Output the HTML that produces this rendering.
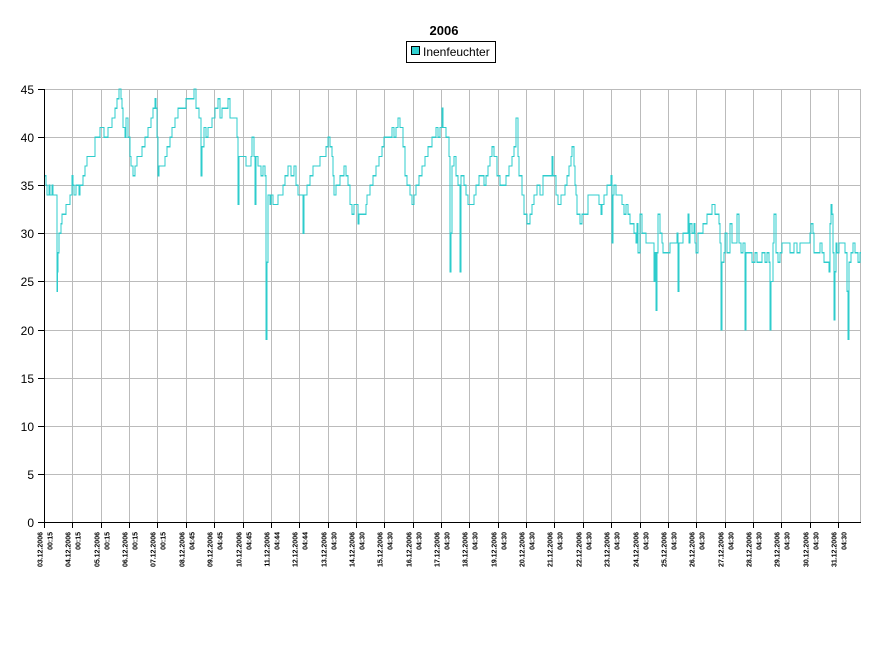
<!DOCTYPE html>
<html><head><meta charset="utf-8"><style>
html,body{margin:0;padding:0;background:#fff;}
svg{display:block;font-family:"Liberation Sans",sans-serif;}
</style></head><body>
<svg id="s" width="889" height="657" xmlns="http://www.w3.org/2000/svg">
<rect width="889" height="657" fill="#fff"/>
<text x="444" y="35" text-anchor="middle" font-size="13" font-weight="bold">2006</text>
<rect x="406.5" y="41.5" width="89" height="21" fill="#fff" stroke="#000"/>
<rect x="411.5" y="46.5" width="8" height="8" fill="#30d0d0" stroke="#000" stroke-width="1"/>
<text x="423" y="56" font-size="12">Inenfeuchter</text>
<g id="grid" shape-rendering="crispEdges"></g>
<path id="d" fill="none" stroke="#2ecccc" stroke-width="1.3" shape-rendering="crispEdges"/>
<g id="ax"></g>
</svg>
<script>
var NS="http://www.w3.org/2000/svg";
function el(p,t,a,txt){var e=document.createElementNS(NS,t);for(var k in a)e.setAttribute(k,a[k]);if(txt!==undefined)e.textContent=txt;p.appendChild(e);return e;}
var g=document.getElementById('grid'),ax=document.getElementById('ax');
function Y(v){return 522-v*9.622;}
var L=44,R=861;
for(var v=0;v<=45;v+=5){var y=Math.round(Y(v))+0.5;
 if(v>0)el(g,'line',{x1:L,x2:R,y1:y,y2:y,stroke:'#bbb'});
 el(ax,'line',{x1:38,x2:L,y1:y,y2:y,stroke:'#000'});
 el(ax,'text',{x:34,y:y+4.5,'text-anchor':'end','font-size':'12'},''+v);}
el(g,'line',{x1:R-0.5,x2:R-0.5,y1:89,y2:522,stroke:'#bbb'});
for(var i=0;i<29;i++){var x=Math.round(44+i*28.36)+0.5;
 if(i>0)el(g,'line',{x1:x,x2:x,y1:89,y2:522,stroke:'#bbb'});
 el(ax,'line',{x1:x,x2:x,y1:522,y2:528,stroke:'#000'});
 var d=(i+3<10?'0':'')+(i+3)+'.12.2006';
 var t=i<5?'00:15':(i<8?'04:45':(i<10?'04:44':'04:30'));
 el(ax,'text',{transform:'translate('+(x-2)+',532) rotate(-90)','text-anchor':'end','font-size':'7','font-weight':'bold'},d);
 el(ax,'text',{transform:'translate('+(x+8)+',532) rotate(-90)','text-anchor':'end','font-size':'7','font-weight':'bold'},t);}
el(ax,'line',{x1:44.5,x2:44.5,y1:89,y2:522,stroke:'#000'});
el(ax,'line',{x1:44,x2:R,y1:522.5,y2:522.5,stroke:'#000'});
var P=[44,36,46,35,47,34,49,35,50,34,52,35,53,34,57,24,57.5,26,58,28,59,30,61,31,62,32,66,33,70,34,72,36,73,35,74,34,76,35,79,34,80,35,83,36,85,37,87,38,95,40,100,41,104,40,108,41,112,42,115,43,117,44,119,45,121,44,122,43,123,41,125,40,126,42,128,40,130,38,131,37,133,36,135,37,137,38,142,39,145,40,148,41,151,42,153,43,155,44,156,43,157,40,158,36,159,37,165,38,167,39,170,40,172,41,175,42,178,43,186,44,191,44,194,45,196,43,199,42,201,36,202,39,204,41,206,40,208,41,212,42,215,43,218,44,220,42,222,43,225,43,228,44,230,42,234,42,237,40,238,33,239,38,244,38,246,37,249,37,251,38,252,40,254,38,255,33,256,38,258,37,261,36,263,37,265,36,266,19,267,27,268,34,270,33,271,34,273,33,278,34,283,35,285,36,288,37,291,36,294,37,296,35,298,34,303,30,304,34,307,35,310,36,313,37,320,38,326,39,328,40,330,39,332,38,333,36,334,34,336,35,340,36,344,37,346,36,348,35,350,33,352,32,354,33,358,31,359,32,364,32,366,33,367,34,370,35,373,36,376,37,379,38,382,39,384,40,392,41,394,40,396,41,398,42,400,41,403,39,405,36,407,35,410,34,412,33,414,34,416,35,419,36,422,37,425,38,428,39,432,40,436,41,438,40,440,41,442,43,443,41,446,40,449,38,450,26,451,30,452,37,454,38,456,36,458,35,460,26,461,36,464,35,466,34,468,33,474,34,476,35,479,36,484,35,486,36,488,37,490,38,492,39,494,38,497,36,500,35,506,36,509,37,512,38,514,39,516,42,518,38,519,36,522,34,524,32,527,31,530,32,532,33,534,34,537,35,540,34,543,36,552,38,553,36,556,34,558,33,561,34,565,35,567,36,569,37,571,38,572,39,574,37,575,35,576,34,577,32,580,31,582,32,588,34,599,33,601,32,602,33,604,34,607,35,611,36,612,29,613,34,614,35,616,34,620,34,622,33,624,32,626,33,628,32,630,31,634,30,636,29,637,31,638,28,640,32,642,30,646,29,651,29,654,25,655,28,656,22,657,28,658,32,660,30,662,29,663,28,670,29,676,29,677,30,678,24,679,29,681,29,683,30,688,32,689,29,690,31,692,30,694,31,695,29,696,28,698,30,703,31,707,32,712,33,715,32,719,31,720,29,721,20,722,27,724,28,725,30,727,28,730,31,732,29,737,32,739,29,741,28,743,29,745,20,746,28,752,27,755,28,757,27,762,28,765,27,767,28,769,27,770,20,771,25,773,29,774,32,776,28,778,27,780,28,782,29,790,28,794,29,797,28,800,29,810,30,811,31,813,30,814,28,820,29,822,28,824,27,829,26,830,31,831,33,832,32,833,28,834,21,835,26,836,29,837,28,839,29,845,28,847,24,848,19,849,27,851,28,853,29,855,28,858,27,860,28];
var s='M'+P[0]+' '+Y(P[1]).toFixed(1);
for(var i=2;i<P.length;i+=2){s+=' H'+P[i]+' V'+Y(P[i+1]).toFixed(1);}
s+=' H861';
document.getElementById('d').setAttribute('d',s);
</script>
</body></html>
